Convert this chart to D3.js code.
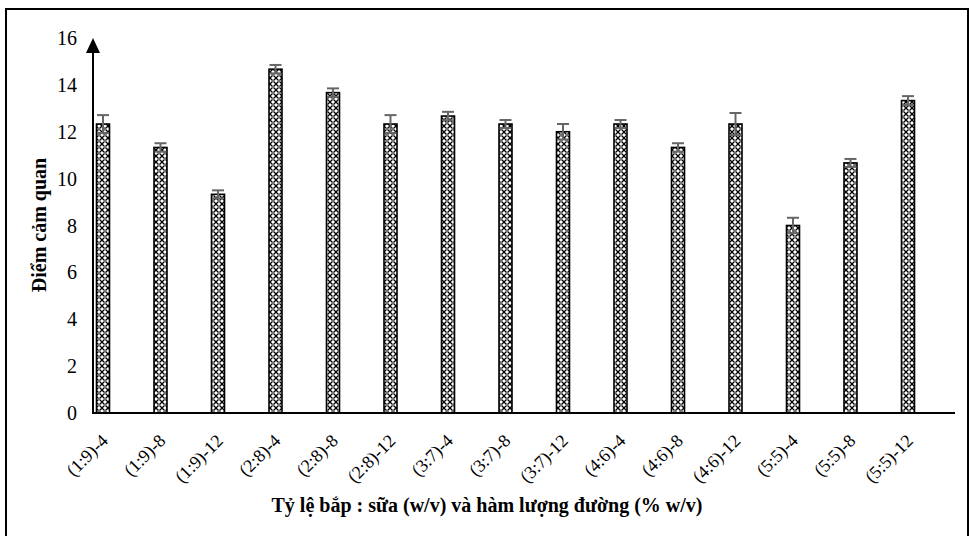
<!DOCTYPE html>
<html>
<head>
<meta charset="utf-8">
<script src="https://cdn.jsdelivr.net/npm/d3@7"></script>
<style>
  body { margin: 0; background: #fff; }
  text { font-family: "Liberation Serif", "Times New Roman", serif; fill: #000; }
</style>
</head>
<body>
<script>
// chart data
var categories = ["(1:9)-4", "(1:9)-8", "(1:9)-12", "(2:8)-4", "(2:8)-8", "(2:8)-12",
    "(3:7)-4", "(3:7)-8", "(3:7)-12", "(4:6)-4", "(4:6)-8", "(4:6)-12",
    "(5:5)-4", "(5:5)-8", "(5:5)-12"];
var scores = [12.33, 11.33, 9.33, 14.67, 13.67, 12.33, 12.67, 12.33, 12.0, 12.33, 11.33, 12.33, 8.0, 10.67, 13.33];
var errors = [0.38, 0.18, 0.17, 0.18, 0.18, 0.38, 0.18, 0.17, 0.33, 0.17, 0.18, 0.47, 0.33, 0.17, 0.19];
var yTicks = [0, 2, 4, 6, 8, 10, 12, 14, 16];

var width = 970, height = 536;

var svg = d3.select("body")
    .append("svg")
    .attr("width", width)
    .attr("height", height);

// outer frame (no bottom edge visible)
svg.append("path")
    .attr("d", "M 6 536 L 6 9 L 968 9 L 968 536")
    .attr("fill", "none")
    .attr("stroke", "#000")
    .attr("stroke-width", 2);

// dotted diamond fill pattern
var defs = svg.append("defs");
var pat = defs.append("pattern")
    .attr("id", "diamonds")
    .attr("patternUnits", "userSpaceOnUse")
    .attr("width", 6)
    .attr("height", 6);
pat.append("rect").attr("width", 6).attr("height", 6).attr("fill", "#fff");
pat.append("path")
    .attr("d", "M0 0 L6 6 M6 0 L0 6")
    .attr("stroke", "#000")
    .attr("stroke-width", 1.3);
pat.append("circle").attr("cx", 3).attr("cy", 3).attr("r", 0.8).attr("fill", "#fff");

// scales
var x = d3.scalePoint().domain(categories).range([103, 908]);
var y = d3.scaleLinear().domain([0, 16]).range([413, 38]);
var barW = 13;

// bars
svg.selectAll("rect.bar")
    .data(categories)
    .enter()
    .append("rect")
    .attr("class", "bar")
    .attr("x", (d) => x(d) - barW / 2)
    .attr("y", (d, i) => y(scores[i]))
    .attr("width", barW)
    .attr("height", (d, i) => y(0) - y(scores[i]))
    .attr("fill", "url(#diamonds)")
    .attr("stroke", "#000")
    .attr("stroke-width", 1.6);

// error bars
var err = svg.selectAll("g.err")
    .data(categories)
    .enter()
    .append("g")
    .attr("class", "err")
    .attr("stroke", "#666")
    .attr("stroke-width", 2);
err.append("line")
    .attr("x1", (d) => x(d)).attr("x2", (d) => x(d))
    .attr("y1", (d, i) => y(scores[i] - errors[i]))
    .attr("y2", (d, i) => y(scores[i] + errors[i]));
err.append("line")
    .attr("x1", (d) => x(d) - 6).attr("x2", (d) => x(d) + 6)
    .attr("y1", (d, i) => y(scores[i] + errors[i]))
    .attr("y2", (d, i) => y(scores[i] + errors[i]));
err.append("line")
    .attr("x1", (d) => x(d) - 6).attr("x2", (d) => x(d) + 6)
    .attr("y1", (d, i) => y(scores[i] - errors[i]))
    .attr("y2", (d, i) => y(scores[i] - errors[i]));

// x axis line
svg.append("line")
    .attr("x1", 93).attr("x2", 955)
    .attr("y1", y(0)).attr("y2", y(0))
    .attr("stroke", "#000")
    .attr("stroke-width", 2);

// y axis with arrow
svg.append("line")
    .attr("x1", 93).attr("x2", 93)
    .attr("y1", y(0) + 1).attr("y2", y(16) + 12)
    .attr("stroke", "#000")
    .attr("stroke-width", 2);
svg.append("path")
    .attr("d", "M 93 " + y(16) + " L 100 " + (y(16) + 15) + " L 86 " + (y(16) + 15) + " Z")
    .attr("fill", "#000");

// y tick labels
svg.selectAll("text.ytick")
    .data(yTicks)
    .enter()
    .append("text")
    .attr("class", "ytick")
    .attr("x", 77)
    .attr("y", (d) => y(d))
    .attr("dy", "0.35em")
    .attr("text-anchor", "end")
    .style("font-size", "20px")
    .text((d) => d);

// x tick labels, rotated
svg.selectAll("text.xtick")
    .data(categories)
    .enter()
    .append("text")
    .attr("class", "xtick")
    .attr("text-anchor", "end")
    .attr("transform", (d) => "translate(" + (x(d) + 6) + "," + 442 + ") rotate(-45)")
    .style("font-size", "18px")
    .text((d) => d);

// axis titles
svg.append("text")
    .attr("transform", "translate(46,225) rotate(-90)")
    .attr("text-anchor", "middle")
    .style("font-size", "20px")
    .style("font-weight", "bold")
    .text("Điểm cảm quan");

svg.append("text")
    .attr("x", 487)
    .attr("y", 512)
    .attr("text-anchor", "middle")
    .style("font-size", "20px")
    .style("font-weight", "bold")
    .text("Tỷ lệ bắp : sữa (w/v) và hàm lượng đường (% w/v)");
</script>
</body>
</html>
